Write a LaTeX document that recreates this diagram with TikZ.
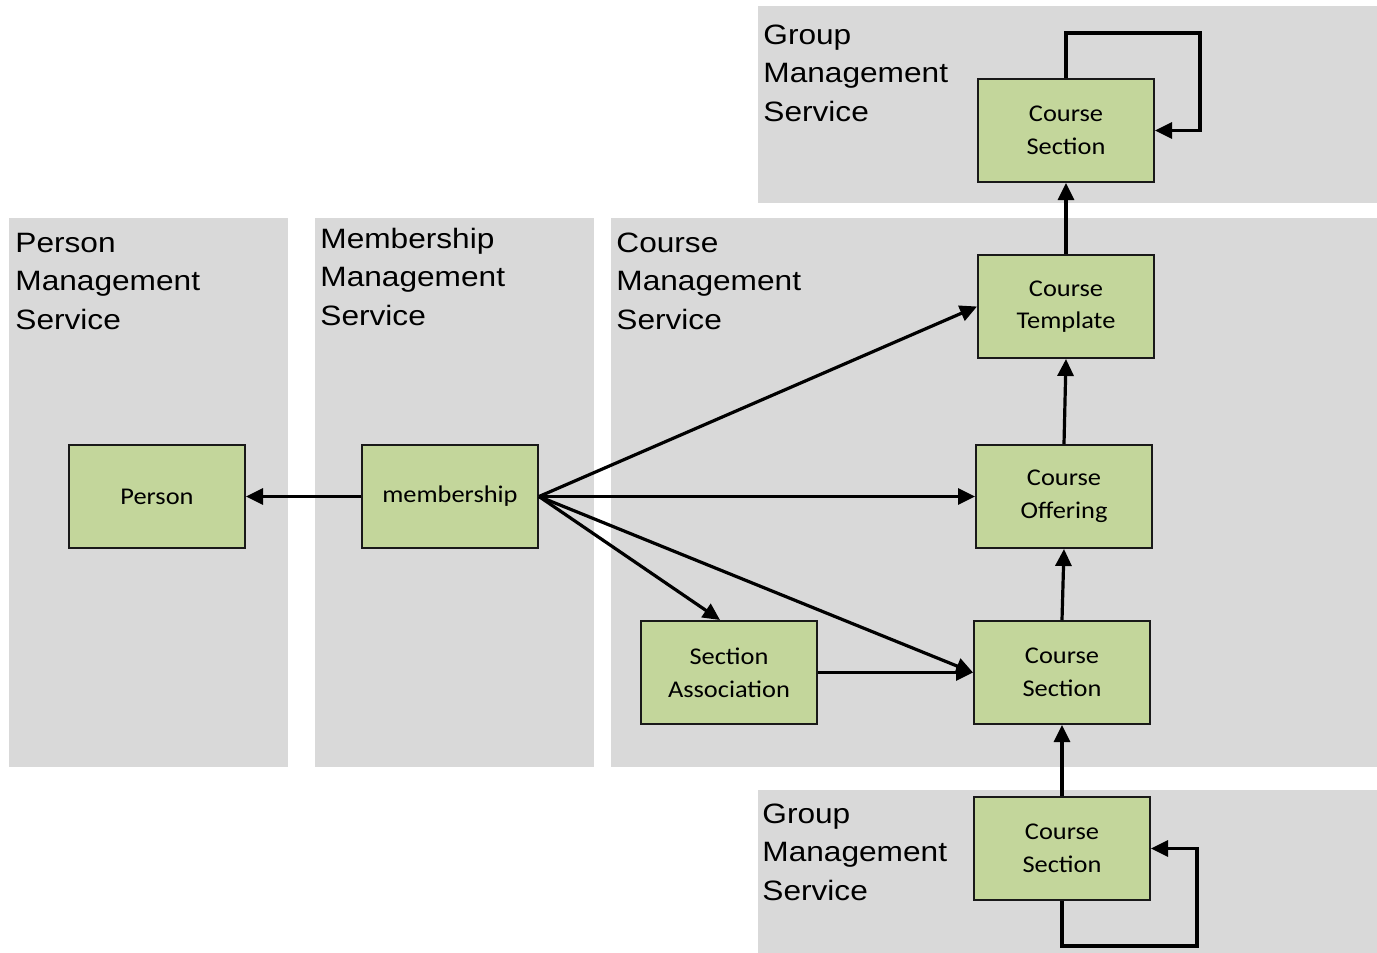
\documentclass[tikz,border=0pt]{standalone}
\usepackage{fontspec}
\newfontfamily\headfont[FakeStretch=1.13]{Liberation Sans}
\newfontfamily\boxfont[FakeStretch=1.1]{Carlito}
\usetikzlibrary{arrows.meta}
\definecolor{panelgray}{HTML}{D9D9D9}
\definecolor{boxgreen}{HTML}{C3D69B}
\begin{document}
\begin{tikzpicture}[x=0.5pt,y=-0.5pt,
  panel/.style={fill=panelgray, draw=none},
  entity/.style={draw=black!90, line width=1pt, fill=boxgreen,
    minimum width=88pt, minimum height=51.5pt, align=center, inner sep=0pt,
    font=\boxfont\fontsize{12pt}{16.3pt}\selectfont},
  heading/.style={anchor=base west, align=left, inner sep=0pt,
    font=\headfont\fontsize{14pt}{19.25pt}\selectfont},
  link/.style={line width=1.6pt, -{Triangle[length=8.5pt,width=8pt]}}]
\useasboundingbox (0,0) rectangle (1377,953);
% panels
\fill[panel] (758,6) rectangle (1377,203);
\fill[panel] (9,218) rectangle (288,767);
\fill[panel] (315,218) rectangle (594,767);
\fill[panel] (611,218) rectangle (1377,767);
\fill[panel] (758,790) rectangle (1377,953);
% headings (anchored at the baseline of the last line)
\node[heading] (hGroupTop) at (763,121) {Group\\Management\\Service};
\node[heading] (hPerson) at (15,329) {Person\\Management\\Service};
\node[heading] (hMember) at (320,325) {Membership\\Management\\Service};
\node[heading] (hCourse) at (616,329) {Course\\Management\\Service};
\node[heading] (hGroupBot) at (762,900) {Group\\Management\\Service};
% entities
\node[entity] (topCS) at (1066,130.5) {Course\\Section};
\node[entity] (tmpl) at (1066,306.5) {Course\\Template};
\node[entity] (offer) at (1064,496.5) {Course\\Offering};
\node[entity] (midCS) at (1062,672.5) {Course\\Section};
\node[entity] (assoc) at (729,672.5) {Section\\Association};
\node[entity] (botCS) at (1062,848.5) {Course\\Section};
\node[entity] (person) at (157,496.5) {Person};
\node[entity] (member) at (450,496.5) {membership};
\coordinate (loopTop) at (1200,33);
\coordinate (loopBot) at (1197,946);
% connectors
\draw[link] (member.west) -- (person.east);
\draw[link] (member.east) -- (tmpl.west);
\draw[link] (member.east) -- (offer.west);
\draw[link] (member.east) -- ([xshift=-4.5pt]assoc.north);
\draw[link] (member.east) -- (midCS.west);
\draw[link] (assoc.east) -- (midCS.west);
\draw[link] (midCS.north) -- (offer.south);
\draw[link] (offer.north) -- (tmpl.south);
\draw[link] (tmpl.north) -- (topCS.south);
\draw[link] (botCS.north) -- (midCS.south);
\draw[link] (topCS.north) |- (loopTop) |- (topCS.east);
\draw[link] (botCS.south) |- (loopBot) |- (botCS.east);
\end{tikzpicture}
\end{document}
